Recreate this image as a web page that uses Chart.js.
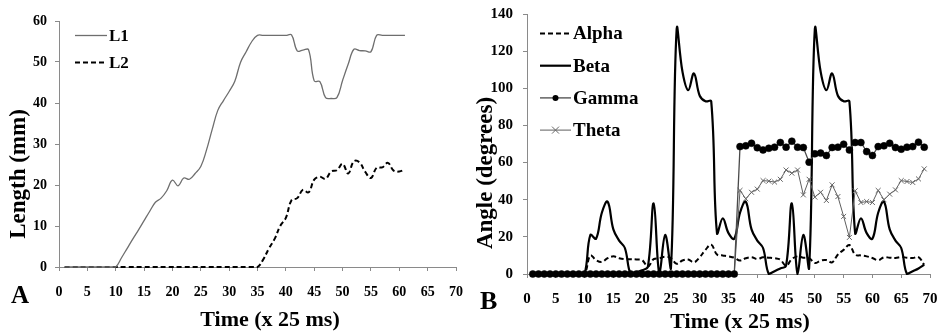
<!DOCTYPE html>
<html>
<head>
<meta charset="utf-8">
<title>Length and angle over time</title>
<script src="https://cdn.jsdelivr.net/npm/chart.js@4.4.0/dist/chart.umd.min.js"></script>
<style>
  html, body { margin: 0; padding: 0; background: #fff; }
  #wrap { position: relative; width: 939px; height: 333px; overflow: hidden; }
  .panel { position: absolute; top: 0; }
  #panelA { left: 0; }
  #panelB { left: 470px; }
</style>
</head>
<body>
<div id="wrap">
  <div class="panel" id="panelA"><canvas id="chartA" width="470" height="333"></canvas></div>
  <div class="panel" id="panelB"><canvas id="chartB" width="469" height="333"></canvas></div>
</div>
<script>
// Data - panel A (length)
const timeA = [1,2,3,4,5,6,7,8,9,10,11,12,13,14,15,16,17,18,19,20,21,22,23,24,25,26,27,28,29,30,
  31,32,33,34,35,36,37,38,39,40,41,42,43,44,45,46,47,48,49,50,51,52,53,54,55,56,57,58,59,60,61];
const lengthL1 = [0,0,0,0,0,0,0,0,0,0,
  2.2,4.5,6.8,9.0,11.3,13.6,15.8,16.8,18.6,21.2,
  19.8,21.7,21.4,22.8,24.5,28.5,33.5,38.2,40.6,42.8,
  45.3,49.9,52.5,55.0,56.5,56.5,56.5,56.5,56.5,56.5,
  56.6,52.7,52.9,53.0,45.4,45.2,41.3,41.1,41.3,45.5,
  49.5,53.1,52.8,52.7,52.5,56.5,56.5,56.5,56.5,56.5,56.5];
const lengthL2 = [0,0,0,0,0,0,0,0,0,0,
  0,0,0,0,0,0,0,0,0,0,
  0,0,0,0,0,0,0,0,0,0,
  0,0,0,0,0,1.8,4.5,6.8,10,12,
  16.3,16.8,18.8,18.2,21.3,22,21.5,23.3,23.6,25.2,
  22.8,25.8,25.5,23.2,21.7,24.2,24.3,25.4,23.5,23.3,23.8];

// Data - panel B (angles)
const timeB = [1,2,3,4,5,6,7,8,9,10,11,12,13,14,15,16,17,18,19,20,21,22,23,24,25,26,27,28,29,30,
  31,32,33,34,35,36,37,38,39,40,41,42,43,44,45,46,47,48,49,50,51,52,53,54,55,56,57,58,59,60,
  61,62,63,64,65,66,67,68,69];
const angleAlpha = [0,0,0,0,0,0,0,0,0,0,
  10,7.5,6.5,8.5,9.5,8.5,8,8,7.8,7.5,
  4,8,8.5,9.3,8.5,5.5,7.3,7.8,6.3,9,
  13,15.8,10.5,10,9.5,8.8,7.3,8.5,9,8,
  9,8.8,8.5,7.7,4.5,8,9.5,8.8,8.5,5.9,
  7.2,7.5,6.3,10.5,13,15.6,10.4,10,9.5,8.6,
  7.4,9,8.8,8.6,9.1,8.8,8.6,9.1,5];
const angleBeta = [0,0,0,0,0,0,0,0,0,0,
  21,19,33,39,24,18,14,0,1,2,
  4,38,0,21,3,132,109,99,108,96,
  93,93,22,30,22,19,33,39,24,18,
  14,0,1.5,3,4.5,38,0,21,3,132,
  109,99,108,96,93,93,22,30,22,19,
  33,39,24,18,14,0,1.5,3,5];
const angleGamma = [0,0,0,0,0,0,0,0,0,0,0,0,0,0,0,0,0,0,0,0,0,0,0,0,0,0,0,0,0,0,0,0,0,0,0,0,
  68.6,69,70.4,68,66.8,67.7,68.3,70.8,68.3,71.5,
  68.3,68.1,60.2,64.7,65.1,63.8,68.1,68.3,69.9,66.8,
  70.8,70.8,65.9,63.8,68.6,69,70.4,68.1,67.2,68.3,
  68.6,71,68.3];
const angleTheta = [0,0,0,0,0,0,0,0,0,0,0,0,0,0,0,0,0,0,0,0,0,0,0,0,0,0,0,0,0,0,0,0,0,0,0,0,
  45,40.5,44,45.7,50.3,50,49.5,51,56,54.3,
  56,42.6,51,41.4,44,39.6,48,41.7,31,19.7,
  44.8,38.5,39,38.5,45,40,43,45.3,50.3,49.8,
  49.3,51.2,56.6];

// Axis ticks
const timeTicks = { min: 0, max: 70, step: 5 };
const lengthTicks = { min: 0, max: 60, step: 10 };
const angleTicks = { min: 0, max: 140, step: 20 };

const SERIF = '"Liberation Serif", "Times New Roman", serif';
const AXIS_GREY = '#8a8a8a';

// Pair x and y arrays for a linear x axis
function toPoints(xs, ys) {
  return xs.map((x, i) => ({ x: x, y: ys[i] }));
}

// Draw a small marker like the ones on the lines
function drawMarker(ctx, ds, x, y) {
  if (!ds.pointRadius) return;
  const r = ds.pointRadius;
  ctx.save();
  ctx.setLineDash([]);
  if (ds.pointStyle === 'crossRot') {
    ctx.strokeStyle = ds.pointBorderColor;
    ctx.lineWidth = 1;
    ctx.beginPath();
    ctx.moveTo(x - r, y - r); ctx.lineTo(x + r, y + r);
    ctx.moveTo(x + r, y - r); ctx.lineTo(x - r, y + r);
    ctx.stroke();
  } else {
    ctx.fillStyle = ds.pointBackgroundColor;
    ctx.beginPath();
    ctx.arc(x, y, r - 0.5, 0, Math.PI * 2);
    ctx.fill();
  }
  ctx.restore();
}

// Legend drawn inside the plot area
const insideLegend = {
  id: 'insideLegend',
  afterDraw(chart, args, opts) {
    const ctx = chart.ctx;
    ctx.save();
    chart.data.datasets.forEach((ds, i) => {
      const y = opts.y0 + i * opts.gap;
      ctx.strokeStyle = ds.borderColor;
      ctx.lineWidth = ds.borderWidth;
      ctx.setLineDash(ds.borderDash || []);
      ctx.beginPath();
      ctx.moveTo(opts.x0, y);
      ctx.lineTo(opts.x1, y);
      ctx.stroke();
      drawMarker(ctx, ds, (opts.x0 + opts.x1) / 2, y);
      ctx.setLineDash([]);
      ctx.fillStyle = '#000';
      ctx.font = 'bold ' + opts.size + 'px ' + SERIF;
      ctx.textAlign = 'left';
      ctx.textBaseline = 'middle';
      ctx.fillText(ds.label, opts.x1 + 2, y + 1);
    });
    ctx.restore();
  }
};

// Axis titles and panel letter
const panelText = {
  id: 'panelText',
  afterDraw(chart, args, opts) {
    const ctx = chart.ctx;
    ctx.save();
    ctx.fillStyle = '#000';
    ctx.textAlign = 'center';
    ctx.textBaseline = 'middle';
    ctx.font = 'bold ' + opts.xSize + 'px ' + SERIF;
    ctx.fillText(opts.xTitle, opts.xPos[0], opts.xPos[1]);
    ctx.save();
    ctx.translate(opts.yPos[0], opts.yPos[1]);
    ctx.rotate(-Math.PI / 2);
    ctx.font = 'bold ' + opts.ySize + 'px ' + SERIF;
    ctx.fillText(opts.yTitle, 0, 0);
    ctx.restore();
    ctx.textAlign = 'left';
    ctx.font = 'bold ' + opts.letterSize + 'px ' + SERIF;
    ctx.fillText(opts.letter, opts.letterPos[0], opts.letterPos[1]);
    ctx.restore();
  }
};

// Shared scale options
function getScales(yTicks, axisW, axisH, tickSize, yPad, xPad) {
  const tickFont = { family: SERIF, size: tickSize, weight: 'bold' };
  const grid = { display: true, drawOnChartArea: false, drawTicks: true, tickLength: 4, color: AXIS_GREY };
  return {
    x: {
      type: 'linear',
      min: timeTicks.min,
      max: timeTicks.max,
      grid: grid,
      border: { display: true, color: AXIS_GREY },
      ticks: { stepSize: timeTicks.step, color: '#000', font: tickFont, padding: xPad, maxRotation: 0, autoSkip: false },
      afterFit(s) { s.height = axisH; s.paddingLeft = 0; s.paddingRight = 0; }
    },
    y: {
      min: yTicks.min,
      max: yTicks.max,
      grid: grid,
      border: { display: true, color: AXIS_GREY },
      ticks: { stepSize: yTicks.step, color: '#000', font: tickFont, padding: yPad },
      afterFit(s) { s.width = axisW; s.paddingTop = 0; s.paddingBottom = 0; }
    }
  };
}

function initCharts() {
  // Panel A
  new Chart(document.getElementById('chartA'), {
    type: 'line',
    data: {
      datasets: [
        { label: 'L1', data: toPoints(timeA, lengthL1), borderColor: '#6e6e6e', borderWidth: 1.3,
          pointRadius: 0, tension: 0.4, clip: false },
        { label: 'L2', data: toPoints(timeA, lengthL2), borderColor: '#000', borderWidth: 2,
          borderDash: [5, 3], pointRadius: 0, tension: 0.4, clip: false }
      ]
    },
    options: {
      responsive: false,
      animation: false,
      layout: { padding: { left: 0, right: 14, top: 21, bottom: 0 } },
      scales: getScales(lengthTicks, 59, 66, 14, 8, 13),
      plugins: {
        legend: { display: false },
        tooltip: { enabled: false },
        insideLegend: { x0: 75, x1: 107, y0: 35.5, gap: 27, size: 17 },
        panelText: {
          xTitle: 'Time (x 25 ms)', xPos: [270, 320], xSize: 22,
          yTitle: 'Length (mm)', yPos: [19, 174], ySize: 23,
          letter: 'A', letterPos: [11, 297], letterSize: 25
        }
      }
    },
    plugins: [insideLegend, panelText]
  });

  // Panel B
  new Chart(document.getElementById('chartB'), {
    type: 'line',
    data: {
      datasets: [
        { label: 'Alpha', data: toPoints(timeB, angleAlpha), borderColor: '#000', borderWidth: 2,
          borderDash: [5, 3], pointRadius: 0, tension: 0.4, clip: false, order: 3 },
        { label: 'Beta', data: toPoints(timeB, angleBeta), borderColor: '#000', borderWidth: 2.2,
          pointRadius: 0, tension: 0.4, clip: false, order: 2 },
        { label: 'Gamma', data: toPoints(timeB, angleGamma), borderColor: '#4a4a4a', borderWidth: 1.3,
          pointRadius: 3.5, pointStyle: 'circle', pointBackgroundColor: '#000', pointBorderColor: '#000',
          pointBorderWidth: 0.5, tension: 0, clip: false, order: 0 },
        { label: 'Theta', data: toPoints(timeB, angleTheta), borderColor: '#5e5e5e', borderWidth: 1,
          pointRadius: 3.5, pointStyle: 'crossRot', pointBackgroundColor: '#666', pointBorderColor: '#666',
          pointBorderWidth: 1, tension: 0, clip: false, order: 1 }
      ]
    },
    options: {
      responsive: false,
      animation: false,
      layout: { padding: { left: 0, right: 9, top: 14, bottom: 0 } },
      scales: getScales(angleTicks, 57, 59, 15, 10, 12),
      plugins: {
        legend: { display: false },
        tooltip: { enabled: false },
        insideLegend: { x0: 70, x1: 101, y0: 33.5, gap: 32.2, size: 19 },
        panelText: {
          xTitle: 'Time (x 25 ms)', xPos: [270, 322], xSize: 22,
          yTitle: 'Angle (degrees)', yPos: [16, 173], ySize: 23,
          letter: 'B', letterPos: [10, 302], letterSize: 26
        }
      }
    },
    plugins: [insideLegend, panelText]
  });
}

document.addEventListener('DOMContentLoaded', initCharts);
</script>
</body>
</html>
